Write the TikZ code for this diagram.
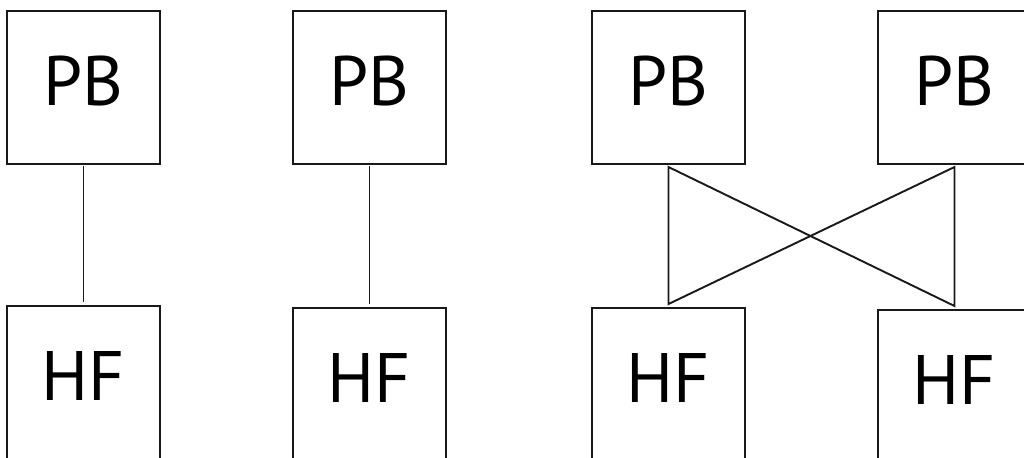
\documentclass[tikz,border=0pt]{standalone}
\usepackage{fontspec}
\setmainfont{PT Sans}
\usetikzlibrary{positioning}

\begin{document}
\begin{tikzpicture}
[boxnode/.style={rectangle, draw=black!90, line width=0.95pt, minimum size=76.5pt, inner sep=0pt, outer sep=0pt, font=\fontsize{35}{35}\selectfont, text depth=7pt},
link/.style={draw=black!90, line width=0.95pt},
]
\useasboundingbox (-41.75pt,43.75pt) rectangle ++(512pt,-228.5pt);

\node[boxnode]	(PBa) at (0,0) {PB};
\node[boxnode]	(PBb) [right=66.5pt of PBa] {PB};
\node[boxnode]	(PBc) [right=73pt of PBb] {PB};
\node[boxnode]	(PBd) [right=66.5pt of PBc] {PB};
\node[boxnode]	(HFa) [below=71pt of PBa] {HF};
\node[boxnode]	(HFb) [below=72pt of PBb] {HF};
\node[boxnode]	(HFc) [below=72pt of PBc] {HF};
\node[boxnode]	(HFd) [below=73pt of PBd] {HF};

% straight links
\draw[link, shorten <=1pt, shorten >=2pt] (PBa) -- (HFa);
\draw[link, shorten <=1pt, shorten >=2pt] (PBb) -- (HFb);

% crossed links
\coordinate (c1) at ([yshift=-1.5pt]PBc.south);
\coordinate (c2) at ([yshift=2pt]HFc.north);
\coordinate (d1) at ([yshift=-1.5pt]PBd.south);
\coordinate (d2) at ([yshift=2pt]HFd.north);
\draw[link] (c1) -- (c2) -- (d1) -- (d2) -- cycle;
\end{tikzpicture}
\end{document}
